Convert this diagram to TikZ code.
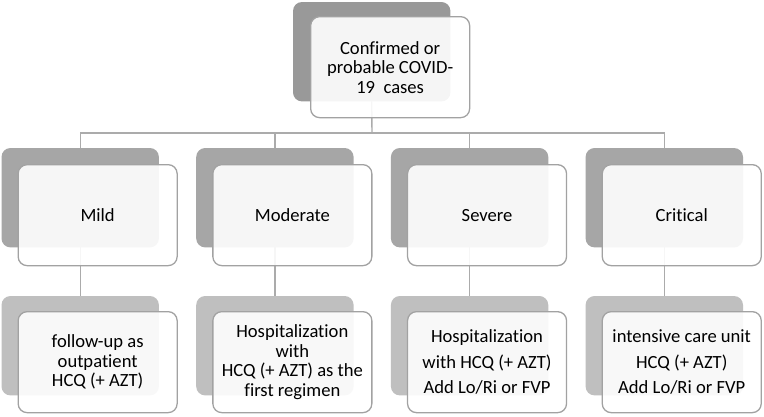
\documentclass[tikz,border=0pt]{standalone}
\usepackage{fontspec}
\setmainfont{Carlito}[Ligatures=CommonOff]
\begin{document}
\begin{tikzpicture}[x=1pt,y=-1pt,
  backbox/.style={draw=none,rounded corners=9pt,minimum width=157pt,minimum height=99pt,inner sep=0pt},
  frontbox/.style={draw=frontline,line width=1.3pt,fill=white,fill opacity=0.9,text opacity=1,rounded corners=9pt,minimum width=159pt,minimum height=101pt,inner sep=0pt,align=center,font=\fontsize{18.6pt}{19.5pt}\selectfont},
  conn/.style={draw=connline,line width=1.4pt}]
\definecolor{frontline}{HTML}{A2A2A2}
\definecolor{connline}{HTML}{ABABAB}
\definecolor{topback}{HTML}{999999}
\definecolor{midback}{HTML}{A6A6A6}
\definecolor{lowback}{HTML}{BFBFBF}
\useasboundingbox (0,0) rectangle (764,416);
\fill[white] (0,0) rectangle (764,416);
\coordinate (bus) at (372,133);
\node[backbox,anchor=north west] (tb) at (293,2) {};
\foreach \i/\nm in {0/a,1/b,2/c,3/d}{
  \node[backbox,anchor=north west] (m\nm) at ({1.5+194.7*\i},148) {};
  \node[backbox,anchor=north west] (l\nm) at ({1.5+194.7*\i},296) {};
}
\draw[conn] (tb.south) -- (bus);
\foreach \nm in {a,b,c,d}{
  \draw[conn] (bus) -| (m\nm.north);
  \draw[conn] (m\nm.south) -- (l\nm.north);
}
\fill[topback,rounded corners=9pt] (tb.north west) rectangle (tb.south east);
\foreach \nm in {a,b,c,d}{
  \fill[midback,rounded corners=9pt] (m\nm.north west) rectangle (m\nm.south east);
  \fill[lowback,rounded corners=9pt] (l\nm.north west) rectangle (l\nm.south east);
}
\node[frontbox,anchor=north west] (tf) at (310,16) {Confirmed or\\probable COVID-\\19\ \ cases};
\node[frontbox,anchor=north west] (mfa) at (17.5,164) {Mild};
\node[frontbox,anchor=north west] (mfb) at (212.2,164) {Moderate};
\node[frontbox,anchor=north west] (mfc) at (406.9,164) {Severe};
\node[frontbox,anchor=north west] (mfd) at (601.6,164) {Critical};
\node[frontbox,anchor=north west] (lfa) at (17.5,311) {follow-up as\\outpatient\\HCQ (+ AZT)};
\node[frontbox,anchor=north west] (lfb) at (212.2,311) {Hospitalization\\with\\HCQ (+ AZT) as the\\first regimen};
\node[frontbox,anchor=north west] (lfc) at (406.9,311) {Hospitalization\\[6pt]with HCQ (+ AZT)\\[6pt]Add Lo/Ri or FVP};
\node[frontbox,anchor=north west] (lfd) at (601.6,311) {intensive care unit\\[6pt]HCQ (+ AZT)\\[6pt]Add Lo/Ri or FVP};
\end{tikzpicture}
\end{document}
